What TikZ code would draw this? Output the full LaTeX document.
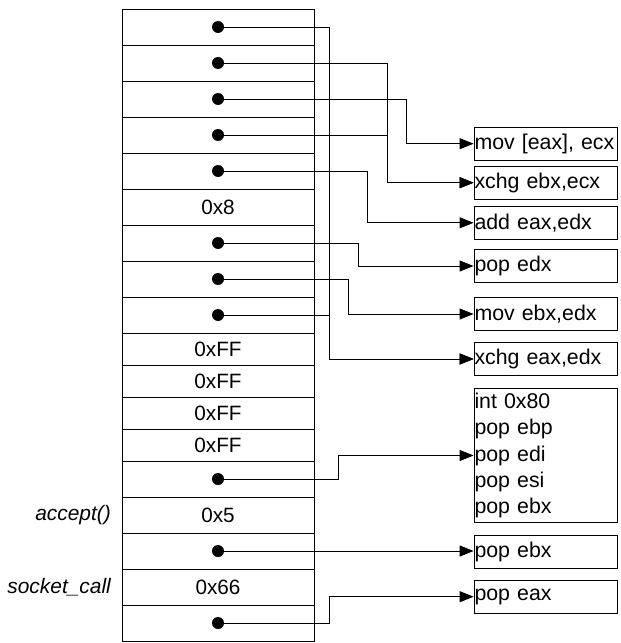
\documentclass[tikz,border=0pt]{standalone}
\usepackage{fontspec}
\setmainfont{Liberation Sans}
\usetikzlibrary{arrows.meta, positioning, calc}

\begin{document}
\begin{tikzpicture}[
  x=1bp, y=-1bp,
  line width=0.8bp,
  cell/.style={rectangle, draw, minimum width=192bp, inner sep=0pt,
    font=\fontsize{20.8}{24}\selectfont},
  bigcell/.style={cell, minimum height=36bp},
  smallcell/.style={cell, minimum height=32bp},
  dot/.style={circle, fill, inner sep=0pt, minimum size=12bp},
  gadget/.style={rectangle, draw, minimum width=143bp, minimum height=33bp,
    text width=142bp, inner xsep=0.5bp, align=left,
    font=\fontsize{21.4}{26.5}\selectfont},
  link/.style={-{Triangle[length=14bp, width=11bp]}},
  lbl/.style={anchor=east, font=\fontsize{21}{24}\selectfont\itshape}
  ]
  \useasboundingbox (0,0) rectangle (621,643);

  %% the stack, top to bottom
  \foreach \i/\yc/\kind/\val in {0/26/bigcell/{}, 1/62/bigcell/{},
    2/98/bigcell/{}, 3/134/bigcell/{}, 4/170/bigcell/{},
    5/206/bigcell/0x8, 6/242/bigcell/{}, 7/278/bigcell/{},
    8/314/bigcell/{}, 9/348/smallcell/0xFF, 10/380/smallcell/0xFF,
    11/412/smallcell/0xFF, 12/444/smallcell/0xFF,
    13/478/bigcell/{}, 14/514/bigcell/0x5, 15/550/bigcell/{},
    16/586/bigcell/0x66, 17/622/bigcell/{}}{
    \node[\kind] (c\i) at (218,\yc+1) {\val};
  }

  % return addresses
  \foreach \i in {0,1,2,3,4,6,7,8,13,15,17}{
    \node[dot] (d\i) at (c\i.center) {};
  }

  \node[lbl] (acc) at ([xshift=-7bp]c14.west) {accept()};
  \node[lbl] (sock) at ([xshift=-7bp]c16.west) {socket\_call};

  %% gadgets
  \node[gadget] (g1) at (545.5,143.7) {mov [eax], ecx};
  \node[gadget] (g2) at (545.5,182.7) {xchg ebx,ecx};
  \node[gadget] (g3) at (545.5,222.8) {add eax,edx};
  \node[gadget] (g4) at (545.5,266.0) {pop edx};
  \node[gadget] (g5) at (545.5,314.0) {mov ebx,edx};
  \node[gadget] (g6) at (545.5,359.0) {xchg eax,edx};
  \node[gadget, minimum height=134.4bp] (g7) at (545.5,455.5)
    {int 0x80\\pop ebp\\pop edi\\pop esi\\pop ebx};
  \node[gadget] (g8) at (545.5,551.5) {pop ebx};
  \node[gadget] (g9) at (545.5,596.7) {pop eax};

  % links: dot, gadget, x of the bend
  \foreach \d/\g/\vx in {0/6/329, 1/2/387, 2/1/406.3, 3/2/387, 4/3/367.7,
    6/4/358.3, 7/5/348.7, 8/6/329, 13/7/338.7, 17/9/329.3}{
    \coordinate (v\d) at (\vx,0);
    \draw[link] (d\d.center) -| (v\d |- g\g.west) -- (g\g.west);
  }
  \draw[link] (d15.center) -- (d15.center -| g8.west);

\end{tikzpicture}
\end{document}
